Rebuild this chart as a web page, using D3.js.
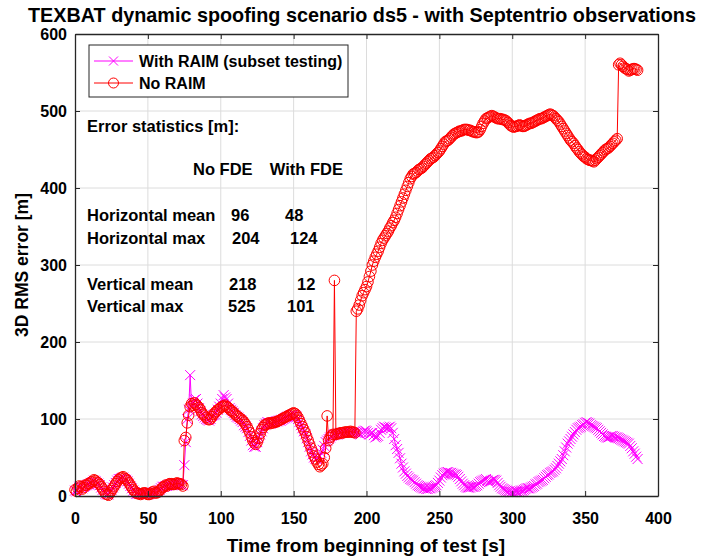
<!DOCTYPE html>
<html>
<head>
<meta charset="utf-8">
<script src="https://cdn.jsdelivr.net/npm/d3@7"></script>
<style>
    body { margin: 0; background: #fff; }
    svg text { font-family: "Liberation Sans", Arial, sans-serif; font-weight: bold; fill: #000; }
</style>
</head>
<body>
<div id="chart-container"></div>
<script>
// 3D RMS error [m], one sample per second from t = 0 s
const noRaimError = [
    8, 6, 10, 13, 12, 9, 11, 14, 14, 16,
    16, 18, 19, 21, 20, 18, 17, 15, 12, 9,
    6, 3, 2, 1, 4, 7, 10, 13, 16, 19,
    21, 23, 24, 25, 23, 22, 20, 17, 14, 11,
    8, 6, 4, 3, 3, 2, 3, 4, 4, 3,
    2, 2, 3, 5, 6, 4, 4, 5, 7, 9,
    11, 12, 14, 13, 15, 16, 16, 15, 15, 16,
    17, 16, 16, 15, 13, 72, 76, 95, 105, 116,
    120, 118, 121, 119, 117, 115, 112, 108, 106, 104,
    102, 100, 99, 100, 103, 106, 108, 110, 112, 113,
    115, 116, 117, 118, 116, 115, 113, 111, 110, 108,
    106, 104, 103, 101, 100, 98, 96, 93, 90, 86,
    82, 77, 72, 69, 67, 70, 75, 81, 86, 89,
    92, 93, 94, 95, 94, 95, 95, 96, 96, 97,
    98, 99, 100, 101, 102, 103, 104, 105, 106, 107,
    108, 107, 105, 102, 98, 94, 90, 86, 82, 77,
    72, 67, 62, 57, 52, 48, 44, 41, 38, 40,
    42, 50, 62, 104, 72, 76, 78, 80, 280, 80,
    81, 81, 82, 82, 82, 83, 83, 83, 83, 84,
    83, 83, 82, 240, 243, 248, 254, 260, 264, 268,
    272, 278, 285, 292, 300, 305, 310, 314, 318, 323,
    328, 332, 335, 338, 341, 344, 348, 351, 355, 358,
    362, 367, 372, 377, 382, 387, 392, 397, 402, 407,
    412, 415, 418, 419, 420, 422, 424, 425, 426, 428,
    430, 432, 434, 436, 438, 439, 440, 442, 444, 446,
    448, 451, 454, 457, 460, 461, 462, 464, 466, 468,
    470, 471, 472, 473, 474, 474, 475, 476, 476, 476,
    475, 475, 474, 473, 473, 472, 472, 473, 476, 480,
    484, 487, 490, 491, 492, 493, 494, 493, 492, 491,
    490, 490, 490, 489, 489, 488, 487, 485, 483, 481,
    480, 479, 480, 480, 481, 482, 481, 480, 480, 481,
    482, 483, 484, 484, 485, 486, 487, 488, 489, 490,
    490, 491, 492, 493, 494, 495, 496, 495, 494, 492,
    490, 488, 486, 483, 480, 477, 474, 471, 468, 465,
    462, 460, 458, 455, 452, 450, 447, 445, 443, 441,
    440, 438, 437, 436, 436, 435, 434, 436, 438, 440,
    442, 444, 446, 448, 450, 451, 452, 454, 456, 458,
    460, 462, 464, 560, 562, 560, 558, 556, 555, 554,
    552, 553, 554, 555, 555, 554, 553
];

const raimError = [
    7, 6, 9, 12, 12, 10, 12, 13, 14, 15,
    15, 17, 18, 20, 19, 17, 16, 14, 11, 8,
    5, 3, 2, 2, 5, 8, 11, 14, 17, 20,
    22, 22, 23, 24, 22, 21, 19, 16, 13, 10,
    7, 5, 3, 3, 3, 3, 4, 4, 3, 3,
    2, 3, 4, 4, 5, 5, 5, 6, 8, 10,
    12, 12, 13, 13, 14, 15, 15, 15, 16, 16,
    16, 15, 15, 14, 14, 40, 70, 100, 112, 157,
    115, 120, 125, 126, 120, 114, 110, 106, 104, 102,
    100, 99, 98, 100, 104, 105, 106, 108, 112, 116,
    120, 126, 131, 128, 126, 120, 114, 112, 110, 108,
    105, 103, 102, 100, 98, 96, 92, 90, 88, 83,
    78, 72, 66, 64, 64, 70, 76, 80, 84, 88,
    92, 94, 96, 95, 94, 95, 96, 96, 97, 97,
    98, 98, 99, 100, 101, 102, 103, 104, 105, 105,
    106, 105, 103, 100, 96, 92, 88, 84, 80, 75,
    70, 64, 58, 54, 50, 48, 48, 50, 52, 56,
    60, 65, 70, 72, 74, 76, 78, 79, 80, 80,
    80, 81, 82, 82, 82, 83, 83, 83, 82, 82,
    82, 83, 83, 82, 82, 81, 80, 82, 84, 85,
    84, 82, 80, 81, 82, 79, 76, 77, 78, 82,
    86, 88, 90, 89, 88, 89, 90, 88, 82, 74,
    66, 61, 56, 49, 42, 37, 32, 29, 26, 24,
    22, 21, 20, 18, 16, 14, 13, 12, 11, 10,
    10, 9, 9, 10, 10, 11, 12, 13, 14, 17,
    20, 24, 27, 29, 30, 31, 31, 30, 30, 29,
    28, 28, 27, 25, 22, 19, 16, 14, 12, 11,
    11, 11, 12, 12, 12, 13, 14, 16, 18, 19,
    20, 21, 22, 20, 18, 19, 20, 21, 21, 20,
    17, 14, 12, 10, 9, 8, 7, 6, 6, 5,
    5, 5, 6, 6, 5, 6, 7, 7, 8, 9,
    10, 10, 10, 11, 12, 13, 15, 16, 18, 19,
    20, 21, 23, 25, 27, 28, 30, 31, 32, 34,
    36, 39, 42, 45, 48, 53, 58, 63, 68, 71,
    74, 77, 80, 83, 86, 88, 89, 90, 92, 93,
    95, 96, 95, 94, 92, 91, 90, 89, 88, 86,
    84, 82, 80, 78, 77, 76, 76, 77, 78, 78,
    77, 76, 76, 75, 74, 73, 72, 71, 70, 69,
    68, 65, 62, 58, 55, 51, 48
];

const xTicks = [0, 50, 100, 150, 200, 250, 300, 350, 400];
const yTicks = [0, 100, 200, 300, 400, 500, 600];

const statRows = ["Horizontal mean", "Horizontal max", "Vertical mean", "Vertical max"];
const statNoFde = ["96", "204", "218", "525"];
const statWithFde = ["48", "124", "12", "101"];

let width = 708;
let height = 556;
let margin = ({top: 34, right: 50, bottom: 60, left: 75});

const svg = d3.select("#chart-container")
    .append("svg")
    .attr("width", width)
    .attr("height", height);

const x = d3.scaleLinear()
    .domain([0, 400])
    .range([margin.left, width - margin.right]);

const y = d3.scaleLinear()
    .domain([0, 600])
    .range([height - margin.bottom, margin.top]);

// grid
svg.append("g")
    .attr("stroke", "#dcdcdc")
    .attr("stroke-width", 1)
    .call(g => g.selectAll(".gx").data(xTicks.slice(1, -1)).join("line")
        .attr("class", "gx")
        .attr("x1", d => x(d)).attr("x2", d => x(d))
        .attr("y1", y(0)).attr("y2", y(600)))
    .call(g => g.selectAll(".gy").data(yTicks.slice(1, -1)).join("line")
        .attr("class", "gy")
        .attr("x1", x(0)).attr("x2", x(400))
        .attr("y1", d => y(d)).attr("y2", d => y(d)));

function crossPath(cx, cy, s) {
    return `M${cx - s},${cy - s}L${cx + s},${cy + s}M${cx - s},${cy + s}L${cx + s},${cy - s}`;
}

function drawSeries(values, color, marker) {
    // one sample per second
    const data = values.map((v, i) => ({t: i, v}));
    const line = d3.line().x(d => x(d.t)).y(d => y(d.v));

    svg.append("path")
        .datum(data)
        .attr("fill", "none")
        .attr("stroke", color)
        .attr("stroke-width", 1)
        .attr("d", line);

    const g = svg.append("g")
        .attr("fill", "none")
        .attr("stroke", color)
        .attr("stroke-width", 1);

    if (marker === "o") {
        g.selectAll("circle")
            .data(data)
            .join("circle")
            .attr("cx", d => x(d.t))
            .attr("cy", d => y(d.v))
            .attr("r", 5.3);
    } else {
        g.selectAll("path")
            .data(data)
            .join("path")
            .attr("d", d => crossPath(x(d.t), y(d.v), 5));
    }
}

drawSeries(raimError, "#ff00ff", "x");
drawSeries(noRaimError, "#ff0000", "o");

// axes (box with inward ticks)
const xAxisBottom = d3.axisBottom(x).tickValues(xTicks).tickSizeInner(-5).tickSizeOuter(0).tickPadding(17);
const xAxisTop = d3.axisTop(x).tickValues(xTicks).tickSizeInner(-5).tickSizeOuter(0).tickFormat("");
const yAxisLeft = d3.axisLeft(y).tickValues(yTicks).tickSizeInner(-5).tickSizeOuter(0).tickPadding(8);
const yAxisRight = d3.axisRight(y).tickValues(yTicks).tickSizeInner(-5).tickSizeOuter(0).tickFormat("");

function styleAxis(g) {
    g.select(".domain").attr("stroke", "#262626").attr("stroke-width", 1.3);
    g.selectAll(".tick line").attr("stroke", "#262626");
    g.selectAll(".tick text").attr("font-size", 16).attr("fill", "#262626");
}

svg.append("g").attr("transform", `translate(0,${y(0)})`).call(xAxisBottom).call(styleAxis);
svg.append("g").attr("transform", `translate(0,${y(600)})`).call(xAxisTop).call(styleAxis);
svg.append("g").attr("transform", `translate(${x(0)},0)`).call(yAxisLeft).call(styleAxis);
svg.append("g").attr("transform", `translate(${x(400)},0)`).call(yAxisRight).call(styleAxis);

// titles
svg.append("text")
    .attr("x", 362)
    .attr("y", 22)
    .attr("text-anchor", "middle")
    .attr("font-size", 19.8)
    .text("TEXBAT dynamic spoofing scenario ds5 - with Septentrio observations");

svg.append("text")
    .attr("x", 366)
    .attr("y", 552)
    .attr("text-anchor", "middle")
    .attr("font-size", 19)
    .text("Time from beginning of test [s]");

svg.append("text")
    .attr("transform", `translate(28,${(y(0) + y(600)) / 2}) rotate(-90)`)
    .attr("text-anchor", "middle")
    .attr("font-size", 17.5)
    .text("3D RMS error [m]");

// legend
const legend = svg.append("g");
legend.append("rect")
    .attr("x", 89).attr("y", 45)
    .attr("width", 259).attr("height", 52)
    .attr("fill", "#fff")
    .attr("stroke", "#262626")
    .attr("stroke-width", 1);

const legendItems = [
    {label: "With RAIM (subset testing)", color: "#ff00ff", marker: "x"},
    {label: "No RAIM", color: "#ff0000", marker: "o"}
];

legendItems.forEach((item, i) => {
    const cy = 61 + i * 22;
    legend.append("line")
        .attr("x1", 94).attr("x2", 133)
        .attr("y1", cy).attr("y2", cy)
        .attr("stroke", item.color);
    if (item.marker === "o") {
        legend.append("circle").attr("cx", 113.5).attr("cy", cy).attr("r", 5)
            .attr("fill", "none").attr("stroke", item.color);
    } else {
        legend.append("path").attr("d", crossPath(113.5, cy, 4.5))
            .attr("fill", "none").attr("stroke", item.color);
    }
    legend.append("text")
        .attr("x", 139).attr("y", cy + 5.5)
        .attr("font-size", 16)
        .text(item.label);
});

// error statistics annotation
const stats = svg.append("g");
const statFont = 16.5;
stats.append("text").attr("x", 87).attr("y", 132).attr("font-size", statFont).text("Error statistics [m]:");
stats.append("text").attr("x", 193).attr("y", 175).attr("font-size", statFont).text("No FDE");
stats.append("text").attr("x", 343).attr("y", 175).attr("text-anchor", "end").attr("font-size", statFont).text("With FDE");

const rowY = [221, 244, 290, 312];
const noFdeX = [231, 232, 229, 228];
const withFdeX = [285, 290, 297, 287];
statRows.forEach((label, i) => {
    stats.append("text").attr("x", 87).attr("y", rowY[i]).attr("font-size", statFont).text(label);
    stats.append("text").attr("x", noFdeX[i]).attr("y", rowY[i]).attr("font-size", statFont).text(statNoFde[i]);
    stats.append("text").attr("x", withFdeX[i]).attr("y", rowY[i]).attr("font-size", statFont).text(statWithFde[i]);
});
</script>
</body>
</html>
